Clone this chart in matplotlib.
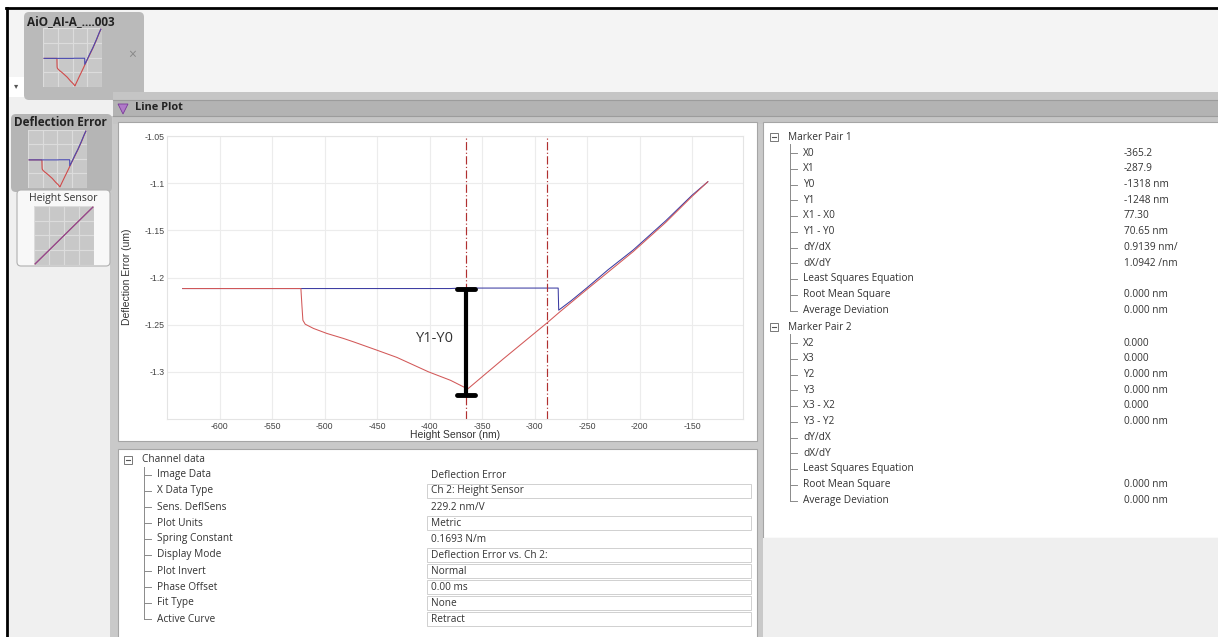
import numpy as np
import matplotlib
matplotlib.use('Agg')
import matplotlib.pyplot as plt
from matplotlib.patches import FancyBboxPatch, Polygon
from matplotlib.lines import Line2D
from matplotlib.transforms import IdentityTransform

plt.rcParams['axes.unicode_minus'] = False

W, H = 1218, 637
UI_FONT = ['Open Sans', 'DejaVu Sans']
PLOT_FONT = ['Liberation Sans Narrow', 'Liberation Sans', 'DejaVu Sans']

# кривая подвода (синяя): Height Sensor, nm / Deflection Error, um
approach_x = [-635, -380, -370, -277.5, -277, -265, -250, -230, -206, -175, -150, -135]
approach_y = [-1.2117, -1.2117, -1.2112, -1.2112, -1.2346, -1.2245, -1.2108, -1.1918,
              -1.1708, -1.1398, -1.1128, -1.0985]

# кривая отвода (красная)
retract_x = [-635, -522.5, -521.5, -520.6, -518.4, -510.5, -497.8, -482, -472.4, -450.2,
             -431.1, -401, -380, -367.7, -363.5, -330, -288, -276, -250, -206, -175, -150, -135]
retract_y = [-1.2117, -1.2117, -1.230, -1.2453, -1.2495, -1.254, -1.2593, -1.2646, -1.2682,
             -1.277, -1.2847, -1.300, -1.309, -1.3159, -1.318, -1.2865, -1.248, -1.2365,
             -1.2125, -1.1725, -1.1415, -1.114, -1.0985]

marker_x = [-365.2, -287.9]       # X0, X1
bar_y = [-1.2117, -1.325]         # чёрная метка Y1-Y0
bar_label_xy = (-394.7, -1.2645)

x_ticks = [-600, -550, -500, -450, -400, -350, -300, -250, -200, -150]
y_ticks = [-1.3, -1.25, -1.2, -1.15, -1.1, -1.05]

# миниатюра Height Sensor
height_t = [0, 1]
height_nm = [-635, -135]

channel_labels = ['Image Data', 'X Data Type', 'Sens. DeflSens', 'Plot Units', 'Spring Constant',
                  'Display Mode', 'Plot Invert', 'Phase Offset', 'Fit Type', 'Active Curve']
channel_values = ['Deflection Error', 'Ch 2: Height Sensor', '229.2 nm/V', 'Metric', '0.1693 N/m',
                  'Deflection Error vs. Ch 2:', 'Normal', '0.00 ms', 'None', 'Retract']
channel_boxed = [False, True, False, True, False, True, True, True, True, True]

pair1_labels = ['X0', 'X1', 'Y0', 'Y1', 'X1 - X0', 'Y1 - Y0', 'dY/dX', 'dX/dY',
                'Least Squares Equation', 'Root Mean Square', 'Average Deviation']
pair1_values = ['-365.2', '-287.9', '-1318 nm', '-1248 nm', '77.30', '70.65 nm', '0.9139 nm/',
                '1.0942 /nm', '', '0.000 nm', '0.000 nm']
pair2_labels = ['X2', 'X3', 'Y2', 'Y3', 'X3 - X2', 'Y3 - Y2', 'dY/dX', 'dX/dY',
                'Least Squares Equation', 'Root Mean Square', 'Average Deviation']
pair2_values = ['0.000', '0.000', '0.000 nm', '0.000 nm', '0.000', '0.000 nm', '', '', '',
                '0.000 nm', '0.000 nm']

fig = plt.figure(figsize=(W / 100, H / 100), dpi=100)
fig.patch.set_facecolor('white')


def box(x0, y0, x1, y1, fc, ec='none', lw=0.8, r=0, z=-5):
    style = f'round,pad=0,rounding_size={r}' if r else 'square,pad=0'
    fig.add_artist(FancyBboxPatch((x0, H - y1), x1 - x0, y1 - y0, boxstyle=style,
                                  fc=fc, ec=ec, lw=lw, transform=IdentityTransform(), zorder=z))


def line(xs, ys, c, lw=0.8, z=-4):
    fig.add_artist(Line2D(xs, [H - y for y in ys], color=c, lw=lw,
                          transform=IdentityTransform(), zorder=z))


def label(x, y, s, size=7.3, color='#333333', **kw):
    fig.text(x / W, 1 - y / H, s, fontsize=size, va='center', color=color, family=UI_FONT, **kw)


def minus_box(x, y):
    box(x, y - 4, x + 8, y + 4, 'white', ec='#777777', lw=0.7, z=-3)
    line([x + 2, x + 6], [y, y], '#555555', lw=0.8, z=-2)


def tree(x_box, y_head, title, rows_y, labels, values, x_val):
    minus_box(x_box, y_head)
    label(x_box + 18, y_head, title)
    tx = x_box + 20
    line([tx, tx], [y_head + 7, rows_y[-1]], '#8a8a8a', lw=0.7)
    for y, s, v in zip(rows_y, labels, values):
        line([tx, tx + 7], [y, y], '#8a8a8a', lw=0.7)
        label(tx + 13, y, s)
        if v:
            label(x_val, y, v)


def thumb(x0, y0, x1, y1, curves):
    a = fig.add_axes([x0 / W, 1 - y1 / H, (x1 - x0) / W, (y1 - y0) / H])
    a.set_facecolor('#c8c8c8')
    for xs, ys, c in curves:
        a.plot(xs, ys, color=c, lw=0.8)
    a.margins(0.02)
    lo, hi = a.get_xlim()
    a.set_xticks(np.linspace(lo, hi, 5))
    lo, hi = a.get_ylim()
    a.set_yticks(np.linspace(lo, hi, 5))
    a.grid(color='#dcdcdc', lw=0.8)
    a.tick_params(length=0, labelbottom=False, labelleft=False)
    for s in a.spines.values():
        s.set_visible(False)
    return a


# фон окна
box(9, 9, W, 92, '#f4f4f4')
line([6, W], [8, 8], 'black', lw=2)
line([7, 7], [8, H], 'black', lw=2)
box(9, 97, 113, H, '#f0f0f0')
box(110, 116, W, H, '#c9c9c9')

# вкладка файла
box(24, 12, 144, 100, '#bababa', r=5)
box(9, 77, 24, 97, 'white')
label(16, 87, '▾', size=6, color='#555555', ha='center')
fig.text(27 / W, 1 - 22 / H, 'AiO_AI-A_....003', fontsize=8.5, fontweight='bold',
         va='center', color='#222222', family=UI_FONT)
label(132, 55, '×', size=10, color='#888888', ha='center')

# заголовок Line Plot
box(113, 92, W, 124, '#c5c5c5')
box(113, 100, W, 116, '#b3b3b3')
line([113, W], [100, 100], '#9c9c9c')
line([113, W], [116, 116], '#9c9c9c')
fig.add_artist(Polygon([[118, H - 104], [128, H - 104], [123, H - 114]], closed=True,
                       fc='#b07ac8', ec='#7a3a9a', lw=0.6, transform=IdentityTransform(), zorder=-3))
fig.text(135 / W, 1 - 108 / H, 'Line Plot', fontsize=7.9, fontweight='bold', va='center',
         color='#222222', family=UI_FONT)

# вкладки каналов
box(11, 114, 112, 192, '#b5b5b5', r=5)
fig.text(14 / W, 1 - 122 / H, 'Deflection Error', fontsize=8.5, fontweight='bold', va='center',
         color='#222222', family=UI_FONT)
box(17, 190, 110, 266, '#f8f8f8', ec='#b0b0b0', r=4)
label(63, 198, 'Height Sensor', size=7.6, ha='center')

# панели
box(118, 122, 757, 441, 'white', ec='#a5a5a5')
box(118, 449, 757, H + 2, 'white', ec='#a5a5a5')
box(763, 122, W + 2, 538, 'white', ec='#a5a5a5')
box(763, 538, W, H, '#efefef')

# основной график
ax = fig.add_axes([167 / W, 1 - 419 / H, 576 / W, 283 / H])
ax.plot(approach_x, approach_y, color='#3c3ca2', lw=0.75)
ax.plot(retract_x, retract_y, color='#d25858', lw=0.75)
for x in marker_x:
    ax.axvline(x, color='#b03030', lw=0.85, ls=(0, (7, 2, 1, 2)))
ax.plot([marker_x[0], marker_x[0]], bar_y, color='black', lw=3, solid_capstyle='butt')
for y in bar_y:
    ax.plot([marker_x[0] - 8.6, marker_x[0] + 8.6], [y, y], color='black', lw=3.5,
            solid_capstyle='round')
ax.text(bar_label_xy[0], bar_label_xy[1], 'Y1-Y0', fontsize=10.5, ha='center', va='center',
        color='#333333', family=UI_FONT)
ax.set_xlim(-650, -101.5)
ax.set_ylim(-1.35, -1.05)
ax.set_xticks(x_ticks)
ax.set_yticks(y_ticks)
ax.set_yticklabels([f'{v:g}' for v in y_ticks])
ax.grid(color='#ececec', lw=0.8)
ax.tick_params(length=0, labelsize=6.3, labelcolor='#444444')
ax.tick_params(axis='x', pad=2.5)
ax.tick_params(axis='y', pad=1.5)
for lab in ax.get_xticklabels() + ax.get_yticklabels():
    lab.set_family(PLOT_FONT)
for s in ax.spines.values():
    s.set_color('#e4e4e4')
    s.set_linewidth(0.8)
fig.text(455 / W, 1 - 435 / H, 'Height Sensor (nm)', fontsize=7.5, ha='center', va='center',
         color='#333333', family=PLOT_FONT)
fig.text(127 / W, 1 - 277 / H, 'Deflection Error (um)', fontsize=7.5, ha='center', va='center',
         rotation=90, color='#333333', family=PLOT_FONT)

# миниатюры
thumb(43, 28, 102, 87, [(retract_x, retract_y, '#d04a4a'), (approach_x, approach_y, '#4a4ab0')])
thumb(28, 130, 87, 188, [(retract_x, retract_y, '#d04a4a'), (approach_x, approach_y, '#4a4ab0')])
thumb(34, 206, 94, 265, [(height_t, height_nm, '#d04a4a'), (height_t, height_nm, '#8a4a9a')])

# Channel data
ch_rows = [475 + 16 * i for i in range(len(channel_labels))]
for y, boxed in zip(ch_rows, channel_boxed):
    if boxed:
        box(427, y - 7, 751, y + 7, 'white', ec='#d0d0d0', lw=0.7, z=-3)
tree(124, 460, 'Channel data', ch_rows, channel_labels, channel_values, 431)

# Marker Pair
p1_rows = [153 + 15.75 * i for i in range(len(pair1_labels))]
p2_rows = [343 + 15.75 * i for i in range(len(pair2_labels))]
tree(770, 137, 'Marker Pair 1', p1_rows, pair1_labels, pair1_values, 1124)
tree(770, 327, 'Marker Pair 2', p2_rows, pair2_labels, pair2_values, 1124)

fig.savefig('out.png', dpi=100)
